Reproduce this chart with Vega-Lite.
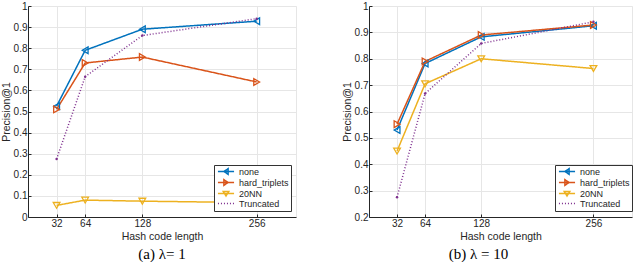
{
  "$schema": "https://vega.github.io/schema/vega-lite/v6.json",
  "background": "white",
  "padding": {"left": 0, "top": 0, "right": 5, "bottom": 0},
  "spacing": 44,
  "resolve": {
    "scale": {"color": "independent", "strokeDash": "independent", "strokeWidth": "independent", "stroke": "independent", "shape": "independent"},
    "legend": {"color": "independent", "strokeDash": "independent"}
  },
  "config": {
    "view": {"stroke": "#e6e6e6"},
    "axis": {
      "labelFont": "Liberation Sans", "titleFont": "Liberation Sans",
      "labelFontSize": 10, "titleFontSize": 10.5, "titleFontWeight": "normal",
      "labelColor": "#262626", "titleColor": "#262626",
      "domainColor": "#262626", "tickColor": "#262626",
      "gridColor": "#e6e6e6", "tickSize": -3, "labelPadding": 4
    },
    "legend": {
      "orient": "none", "legendX": 186, "legendY": 159, "title": null,
      "strokeColor": "#333333", "fillColor": "white", "padding": 2,
      "labelFont": "Liberation Sans", "labelFontSize": 9, "labelColor": "#262626",
      "rowPadding": -2, "symbolSize": 49, "symbolStrokeWidth": 1.3, "labelOffset": 8.5, "symbolOffset": 5.5
    },
    "title": {"font": "Liberation Serif", "fontSize": 15, "fontWeight": "normal", "orient": "bottom", "frame": "group", "color": "black", "offset": 5}
  },
  "datasets": {
    "a": [
      {"k": 32, "p": 0.525, "m": "none"}, {"k": 64, "p": 0.79, "m": "none"}, {"k": 128, "p": 0.89, "m": "none"}, {"k": 256, "p": 0.928, "m": "none"},
      {"k": 32, "p": 0.51, "m": "hard_triplets"}, {"k": 64, "p": 0.73, "m": "hard_triplets"}, {"k": 128, "p": 0.758, "m": "hard_triplets"}, {"k": 256, "p": 0.64, "m": "hard_triplets"},
      {"k": 32, "p": 0.055, "m": "20NN"}, {"k": 64, "p": 0.08, "m": "20NN"}, {"k": 128, "p": 0.075, "m": "20NN"}, {"k": 256, "p": 0.068, "m": "20NN"},
      {"k": 32, "p": 0.275, "m": "Truncated"}, {"k": 64, "p": 0.665, "m": "Truncated"}, {"k": 128, "p": 0.86, "m": "Truncated"}, {"k": 256, "p": 0.94, "m": "Truncated"}
    ],
    "b": [
      {"k": 32, "p": 0.53, "m": "none"}, {"k": 64, "p": 0.782, "m": "none"}, {"k": 128, "p": 0.883, "m": "none"}, {"k": 256, "p": 0.925, "m": "none"},
      {"k": 32, "p": 0.552, "m": "hard_triplets"}, {"k": 64, "p": 0.79, "m": "hard_triplets"}, {"k": 128, "p": 0.89, "m": "hard_triplets"}, {"k": 256, "p": 0.928, "m": "hard_triplets"},
      {"k": 32, "p": 0.45, "m": "20NN"}, {"k": 64, "p": 0.705, "m": "20NN"}, {"k": 128, "p": 0.8, "m": "20NN"}, {"k": 256, "p": 0.763, "m": "20NN"},
      {"k": 32, "p": 0.275, "m": "Truncated"}, {"k": 64, "p": 0.668, "m": "Truncated"}, {"k": 128, "p": 0.858, "m": "Truncated"}, {"k": 256, "p": 0.94, "m": "Truncated"}
    ]
  },
  "hconcat": [
    {
      "width": 268, "height": 211,
      "title": {"text": "(a) λ= 1"},
      "data": {"name": "a"},
      "encoding": {
        "x": {"field": "k", "type": "quantitative", "scale": {"domain": [0, 300], "nice": false}, "axis": {"values": [32, 64, 128, 256], "title": "Hash code length", "titlePadding": 3}},
        "y": {"field": "p", "type": "quantitative", "scale": {"domain": [0, 1], "nice": false}, "axis": {"values": [0, 0.1, 0.2, 0.3, 0.4, 0.5, 0.6, 0.7, 0.8, 0.9, 1], "format": "~g", "title": "Precision@1", "titlePadding": 2}}
      },
      "layer": [
        {
          "mark": {"type": "line"},
          "encoding": {
            "color": {"field": "m", "type": "nominal", "sort": ["none", "hard_triplets", "20NN", "Truncated"], "scale": {"domain": ["none", "hard_triplets", "20NN", "Truncated"], "range": ["#0072BD", "#D95319", "#EDB120", "#7E2F8E"]},
              "legend": {"encode": {"symbols": {"update": {"fill": {"value": "transparent"}, "shape": {"signal": "datum.value === 'none' ? 'M-2.3,0L2.3,0M-0.6,0L0.6,-0.8L0.6,0.8Z' : datum.value === 'hard_triplets' ? 'M-2.3,0L2.3,0M0.6,0L-0.6,-0.8L-0.6,0.8Z' : datum.value === '20NN' ? 'M-2.3,0L2.3,0M-0.8,-0.6L0.8,-0.6L0,0.7Z' : 'M-2.3,0L2.3,0'"}}}}}},
            "strokeDash": {"field": "m", "type": "nominal", "scale": {"domain": ["none", "hard_triplets", "20NN", "Truncated"], "range": [[1, 0], [1, 0], [1, 0], [1, 2]]}},
            "strokeWidth": {"field": "m", "type": "nominal", "scale": {"domain": ["none", "hard_triplets", "20NN", "Truncated"], "range": [1.5, 1.5, 1.5, 1]}, "legend": null}
          }
        },
        {
          "transform": [{"filter": "datum.m !== 'Truncated'"}],
          "mark": {"type": "point", "filled": false, "size": 45, "strokeWidth": 1.3, "opacity": 1},
          "encoding": {
            "stroke": {"field": "m", "type": "nominal", "scale": {"domain": ["none", "hard_triplets", "20NN"], "range": ["#0072BD", "#D95319", "#EDB120"]}, "legend": null},
            "shape": {"field": "m", "type": "nominal", "scale": {"domain": ["none", "hard_triplets", "20NN"], "range": ["triangle-left", "triangle-right", "triangle-down"]}, "legend": null}
          }
        },
        {
          "transform": [{"filter": "datum.m === 'Truncated'"}],
          "mark": {"type": "point", "filled": true, "size": 6, "color": "#7E2F8E", "opacity": 1},
          "encoding": {}
        }
      ]
    },
    {
      "width": 263, "height": 211,
      "title": {"text": "(b) λ = 10", "dx": -22},
      "data": {"name": "b"},
      "encoding": {
        "x": {"field": "k", "type": "quantitative", "scale": {"domain": [0, 300], "nice": false}, "axis": {"values": [32, 64, 128, 256], "title": "Hash code length", "titlePadding": 3}},
        "y": {"field": "p", "type": "quantitative", "scale": {"domain": [0.2, 1], "nice": false}, "axis": {"values": [0.2, 0.3, 0.4, 0.5, 0.6, 0.7, 0.8, 0.9, 1], "format": "~g", "title": "Precision@1", "titlePadding": 2}}
      },
      "layer": [
        {
          "mark": {"type": "line"},
          "encoding": {
            "color": {"field": "m", "type": "nominal", "sort": ["none", "hard_triplets", "20NN", "Truncated"], "scale": {"domain": ["none", "hard_triplets", "20NN", "Truncated"], "range": ["#0072BD", "#D95319", "#EDB120", "#7E2F8E"]},
              "legend": {"encode": {"symbols": {"update": {"fill": {"value": "transparent"}, "shape": {"signal": "datum.value === 'none' ? 'M-2.3,0L2.3,0M-0.6,0L0.6,-0.8L0.6,0.8Z' : datum.value === 'hard_triplets' ? 'M-2.3,0L2.3,0M0.6,0L-0.6,-0.8L-0.6,0.8Z' : datum.value === '20NN' ? 'M-2.3,0L2.3,0M-0.8,-0.6L0.8,-0.6L0,0.7Z' : 'M-2.3,0L2.3,0'"}}}}}},
            "strokeDash": {"field": "m", "type": "nominal", "scale": {"domain": ["none", "hard_triplets", "20NN", "Truncated"], "range": [[1, 0], [1, 0], [1, 0], [1, 2]]}},
            "strokeWidth": {"field": "m", "type": "nominal", "scale": {"domain": ["none", "hard_triplets", "20NN", "Truncated"], "range": [1.5, 1.5, 1.5, 1]}, "legend": null}
          }
        },
        {
          "transform": [{"filter": "datum.m !== 'Truncated'"}],
          "mark": {"type": "point", "filled": false, "size": 45, "strokeWidth": 1.3, "opacity": 1},
          "encoding": {
            "stroke": {"field": "m", "type": "nominal", "scale": {"domain": ["none", "hard_triplets", "20NN"], "range": ["#0072BD", "#D95319", "#EDB120"]}, "legend": null},
            "shape": {"field": "m", "type": "nominal", "scale": {"domain": ["none", "hard_triplets", "20NN"], "range": ["triangle-left", "triangle-right", "triangle-down"]}, "legend": null}
          }
        },
        {
          "transform": [{"filter": "datum.m === 'Truncated'"}],
          "mark": {"type": "point", "filled": true, "size": 6, "color": "#7E2F8E", "opacity": 1},
          "encoding": {}
        }
      ]
    }
  ]
}
